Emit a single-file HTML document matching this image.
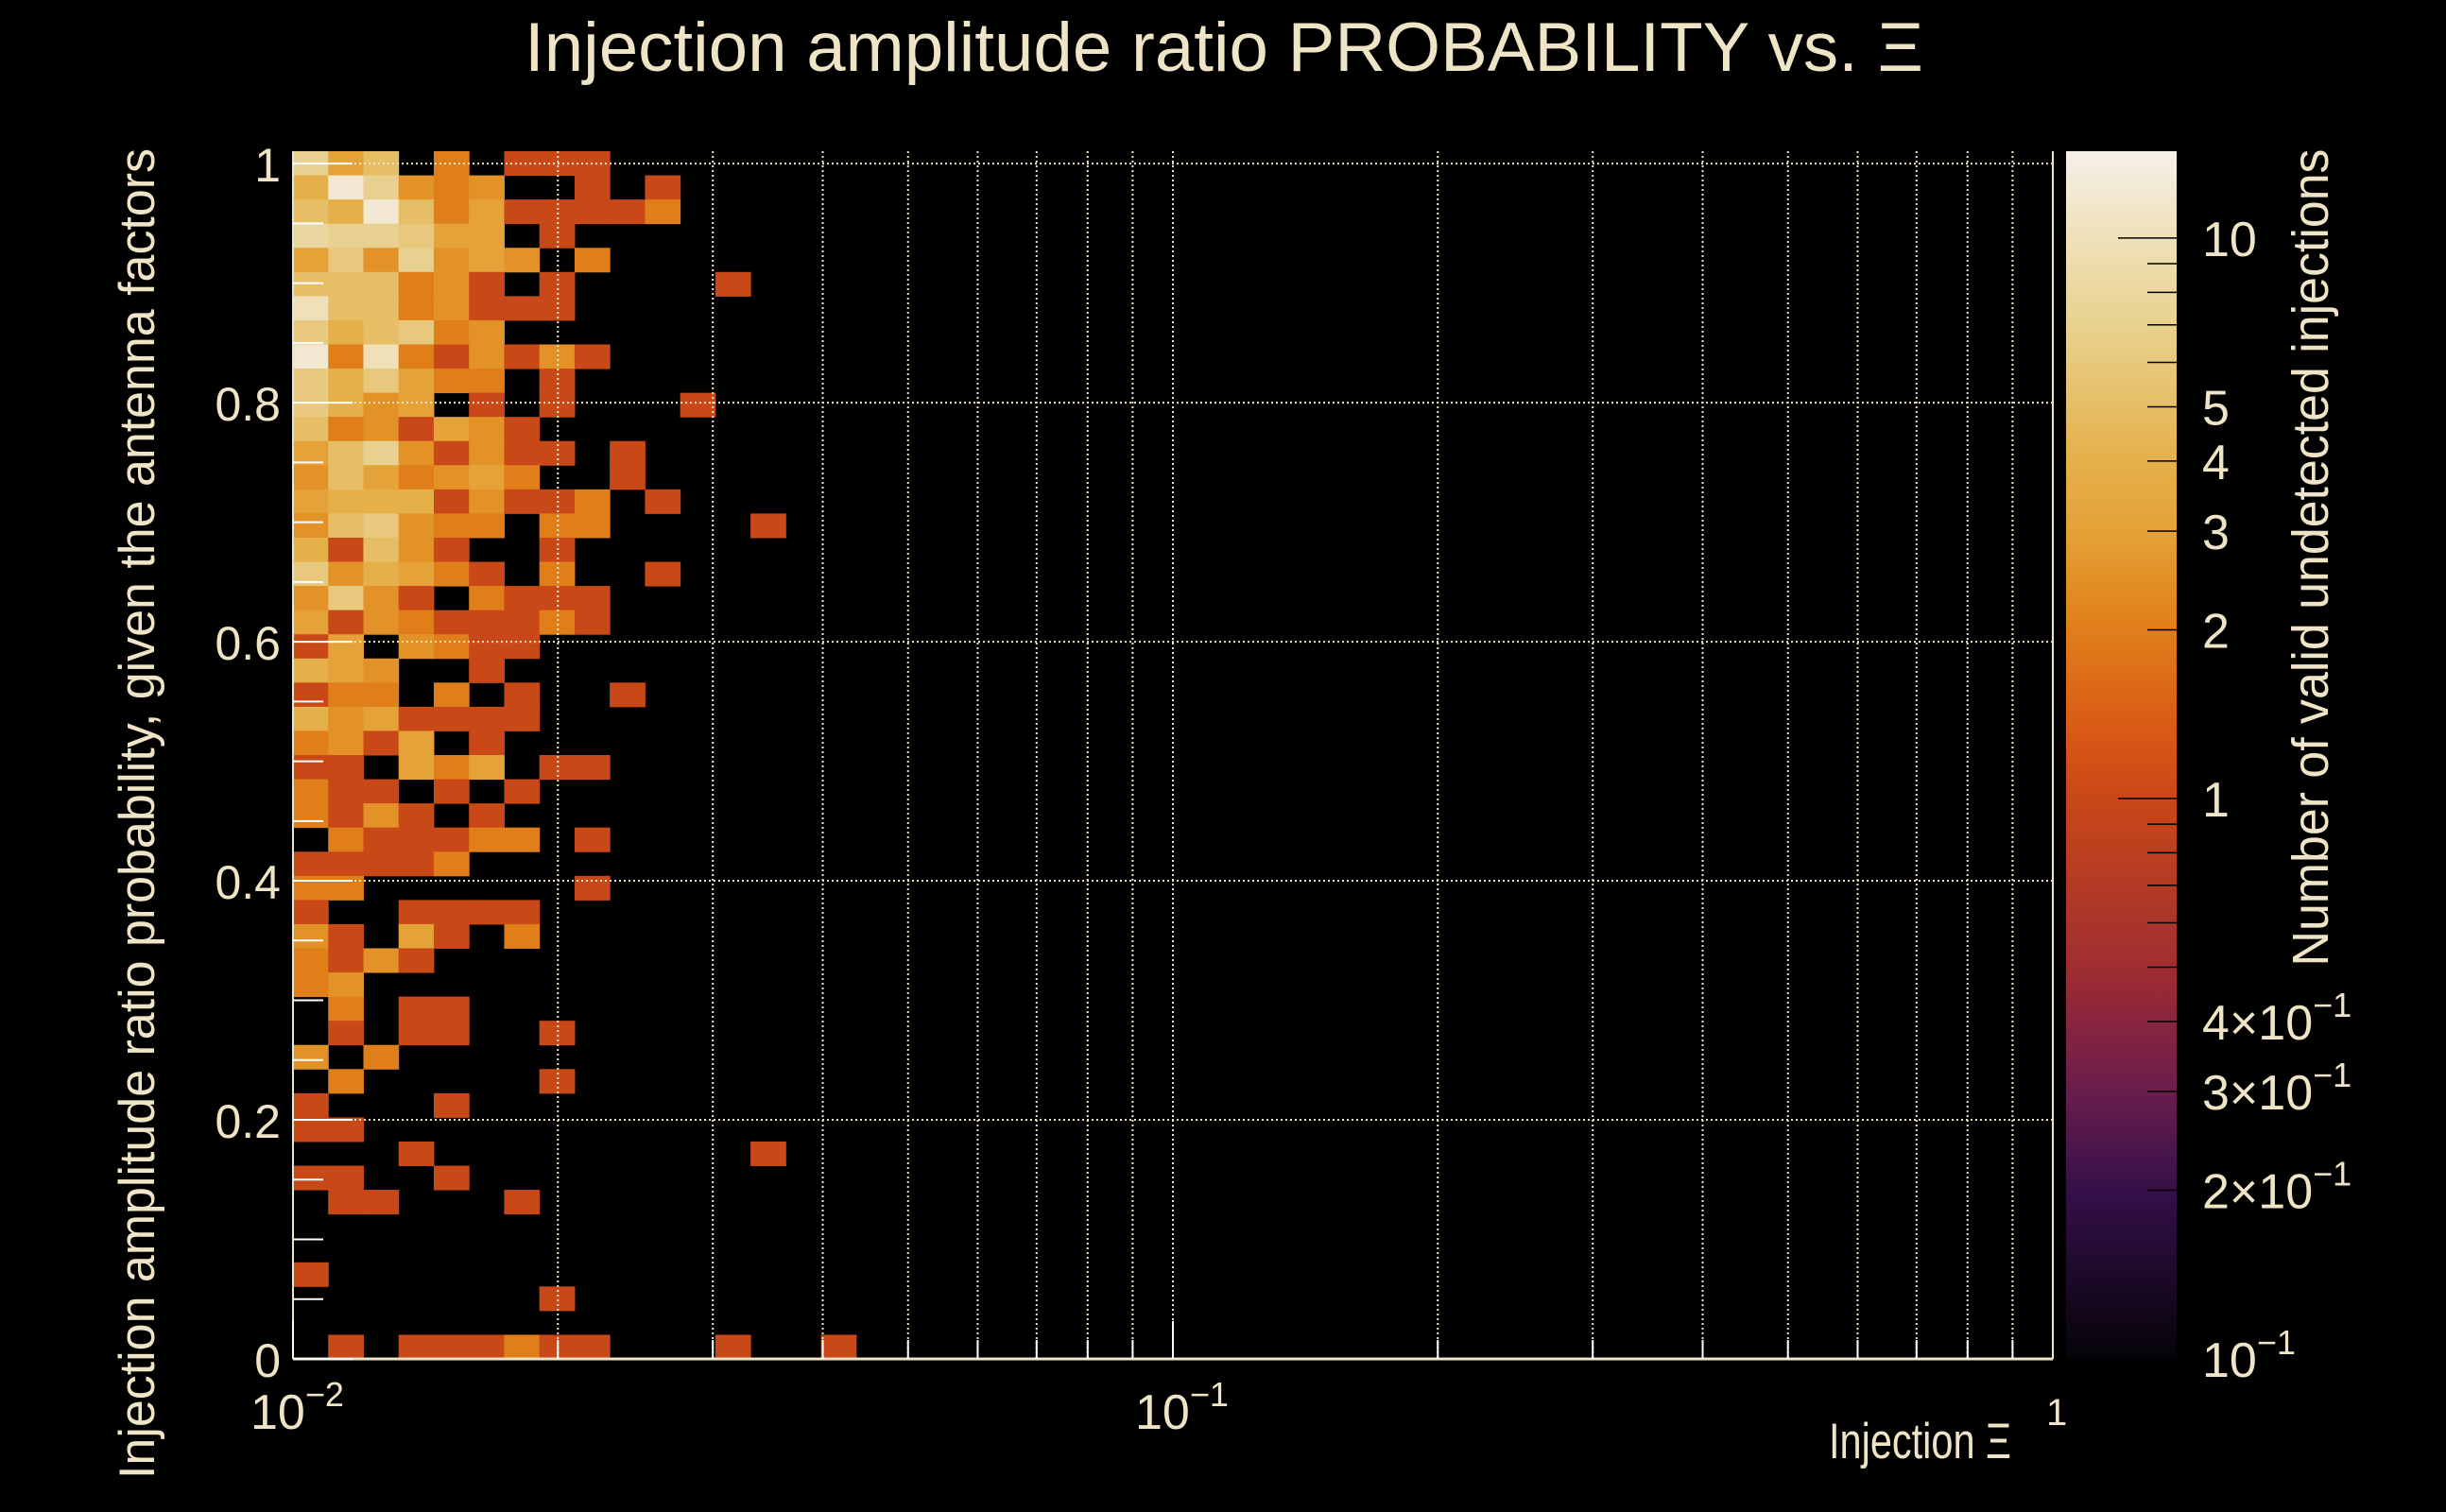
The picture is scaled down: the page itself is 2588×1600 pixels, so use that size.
<!DOCTYPE html>
<html><head><meta charset="utf-8"><style>
html,body{margin:0;padding:0;background:#000;}
svg{display:block;}
text{font-family:"Liberation Sans",sans-serif;fill:#efe4c6;}
</style></head><body>
<svg id="chart" width="2588" height="1600" viewBox="0 0 2588 1600" xmlns="http://www.w3.org/2000/svg">
<rect width="2588" height="1600" fill="#000"/>
<text x="555" y="75" font-size="73" textLength="1480" lengthAdjust="spacingAndGlyphs">Injection amplitude ratio PROBABILITY vs.  Ξ</text>
<g id="cells"></g>
<g id="grid"></g>
<g id="axes"></g>
<g id="cbar"></g>
<text transform="translate(163,861) rotate(-90)" text-anchor="middle" font-size="53" textLength="1408" lengthAdjust="spacingAndGlyphs">Injection amplitude ratio probability, given the antenna factors</text>
<text x="2128" y="1543" text-anchor="end" font-size="53" textLength="193" lengthAdjust="spacingAndGlyphs">Injection Ξ</text>
<text transform="translate(2463,590) rotate(-90)" text-anchor="middle" font-size="54" textLength="865" lengthAdjust="spacingAndGlyphs">Number of valid undetected injections</text>
</svg>
<script>
// histogram: 50 log-x bins (0.01..1) x 50 y bins (0..1.0104); rows listed top (y bin 49) to bottom (y bin 0)
const xBinCount = 50;
const yBinCount = 50;
const countsByRow = [
[7,3,5,0,2,0,1,1,1],
[4,12,7,2.5,2,2.5,0,0,1,0,1],
[5,4,12,5,2,3,1,1,1,1,2],
[8,7,7,6,3,3,0,1],
[3,6,2.5,7,2.5,3,2.5,0,2],
[5,5,5,2,2.5,1,0,1,0,0,0,0,1],
[10,5,5,2,2.5,1,1,1],
[6,4,5,6,2,2.5],
[12,2,10,2,1,2.5,1,2.5,1],
[6,4,6,3,2,2,0,1],
[6,4,2.5,3,0,1,0,1,0,0,0,1],
[5,2,2.5,1,3,2.5,1],
[3,5,7,2.5,1,2.5,1,1,0,1],
[2.5,5,3,2,2.5,3,2,0,0,1],
[3,4,4,4,1,2.5,1,1,2,0,1],
[2.5,5,6,2.5,2,2,0,2,2,0,0,0,0,1],
[4,1,5,2.5,1,0,0,1],
[6,2.5,4,3,2,1,0,2,0,0,1],
[2.5,6,2.5,1,0,2,1,1,1],
[3,1,2.5,2,1,1,1,2,1],
[1,3,0,2.5,2,1,1],
[4,3,2.5,0,0,1],
[1,2,2,0,2,0,1,0,0,1],
[4,2.5,3,1,1,1,1],
[2,2.5,1,3,0,1],
[1,1,0,3,2,3,0,1,1],
[2,1,1,0,1,0,1],
[2,1,2.5,1,0,1],
[0,2,1,1,1,2,2,0,1],
[1,1,1,1,2],
[2,2,0,0,0,0,0,0,1],
[1,0,0,1,1,1,1],
[2.5,1,0,3,1,0,2],
[2,1,2.5,1],
[2,2.5],
[0,2,0,1,1],
[0,1,0,1,1,0,0,1],
[2.5,0,2],
[0,2,0,0,0,0,0,1],
[1,0,0,0,1],
[1,1],
[0,0,0,1,0,0,0,0,0,0,0,0,0,1],
[1,1,0,0,1],
[0,1,1,0,0,0,1],
[],
[],
[1],
[0,0,0,0,0,0,0,1],
[],
[0,1,0,1,1,1,2,1,1,0,0,0,1,0,0,1]
];
const yTickValues = [0,0.2,0.4,0.6,0.8,1];
const yTickLabels = ["0","0.2","0.4","0.6","0.8","1"];
const colorTickValues = [10,5,4,3,2,1,0.4,0.3,0.2,0.1];
const colorTickMain = ["10","5","4","3","2","1","4×10","3×10","2×10","10"];
const colorTickExp = ["","","","","","","−1","−1","−1","−1"];

const NS = "http://www.w3.org/2000/svg";
const X0=310, X1=2172, Y0=1438, Y1=160, YMAX=1.0104;
const ZMIN=-1, ZMAX=1.155;
function xScale(v){ return X0 + (Math.log10(v)+2)/2*(X1-X0); }
function yScale(v){ return Y0 - v/YMAX*(Y0-Y1); }
function zScale(v){ return Y0 - (Math.log10(v)-ZMIN)/(ZMAX-ZMIN)*(Y0-Y1); }
const stops = [[-1,[5,3,8]],[-0.7,[53,16,74]],[-0.52,[106,30,76]],[-0.4,[136,36,62]],[-0.3,[160,46,48]],[0,[201,72,24]],[0.1,[216,85,21]],[0.301,[224,126,26]],[0.4,[227,146,40]],[0.477,[228,162,56]],[0.602,[229,176,74]],[0.699,[230,190,101]],[0.85,[232,210,145]],[1,[239,224,184]],[1.155,[245,240,232]]];
function colorFor(v){
  const t = Math.log10(v);
  if (t<=stops[0][0]) return "rgb("+stops[0][1].join(",")+")";
  for (let i=1;i<stops.length;i++){
    if (t<=stops[i][0]){
      const a=stops[i-1], b=stops[i], f=(t-a[0])/(b[0]-a[0]);
      return "rgb("+a[1].map((c,k)=>Math.round(c+(b[1][k]-c)*f)).join(",")+")";
    }
  }
  return "rgb("+stops[stops.length-1][1].join(",")+")";
}
function mk(tag, attrs, parent){
  const el=document.createElementNS(NS,tag);
  for (const k in attrs) el.setAttribute(k, attrs[k]);
  parent.appendChild(el);
  return el;
}
const cells=document.getElementById('cells');
countsByRow.forEach((row, r)=>{
  const yb = yBinCount-1-r;
  row.forEach((v,c)=>{
    if(!v) return;
    const xa = xScale(Math.pow(10,-2+2*c/xBinCount)), xb = xScale(Math.pow(10,-2+2*(c+1)/xBinCount));
    const ya = yScale(YMAX*(yb+1)/yBinCount), ybot = yScale(YMAX*yb/yBinCount);
    const el = mk('rect',{x:xa,y:ya,width:xb-xa+0.5,height:ybot-ya+0.5,fill:colorFor(v)},cells);
    
    
  });
});
const grid=document.getElementById('grid');
const gridCol="#efe4c6";
for (let e=-2;e<0;e++){
  for (let m=1;m<=9;m++){
    const v=m*Math.pow(10,e); if (v<=0.01) continue;
    const x=xScale(v);
    const l=mk('line',{x1:x,y1:Y1,x2:x,y2:Y0,stroke:gridCol,'stroke-width':2,'stroke-dasharray':'2,3'},grid);
    
    
  }
}
yTickValues.forEach(v=>{
  if (v===0) return;
  const y=yScale(v);
  const l=mk('line',{x1:X0,y1:y,x2:X1,y2:y,stroke:gridCol,'stroke-width':2,'stroke-dasharray':'2,3'},grid);
  
  
});
const axes=document.getElementById('axes');
mk('line',{x1:X0,y1:Y0,x2:X1,y2:Y0,stroke:gridCol,'stroke-width':3},axes);
mk('line',{x1:X0,y1:Y1,x2:X0,y2:Y0,stroke:gridCol,'stroke-width':2},axes);
mk('line',{x1:X1,y1:Y1,x2:X1,y2:Y0,stroke:gridCol,'stroke-width':2},axes);
for (let i=0;i<=20;i++){
  const v=i*0.05, y=yScale(v);
  const len = (i%4===0)?63:32;
  mk('line',{x1:X0,y1:y,x2:X0+len,y2:y,stroke:"#fff",'stroke-width':2},axes);
}
yTickValues.forEach((v,i)=>{
  const t=mk('text',{x:297,y:yScale(v)+19,'text-anchor':'end','font-size':50},axes);
  t.textContent=yTickLabels[i];
  
  
});
for (let e=-2;e<0;e++){
  for (let m=1;m<=9;m++){
    const x=xScale(m*Math.pow(10,e));
    mk('line',{x1:x,y1:Y0,x2:x,y2:Y0-(m===1?40:20),stroke:"#fff",'stroke-width':2},axes);
  }
}
[[-2,265],[-1,1201]].forEach(p=>{
  const t=mk('text',{x:p[1],y:1512,'font-size':52},axes);
  
  
  t.textContent="10";
  const s=mk('tspan',{dy:-24,'font-size':36},t); s.textContent=(p[0]===-2?"−2":"−1");
});
const one=mk('text',{x:2165,y:1508,'font-size':40},axes); one.textContent="1";



const cbar=document.getElementById('cbar');
const defs=mk('defs',{},cbar);
const grad=mk('linearGradient',{id:'cg',x1:0,y1:1,x2:0,y2:0},defs);
for (let i=0;i<=60;i++){
  const t=ZMIN+(ZMAX-ZMIN)*i/60;
  mk('stop',{offset:(i/60).toFixed(4),'stop-color':colorFor(Math.pow(10,t))},grad);
}
const CX0=2186, CX1=2303;
mk('rect',{x:CX0,y:Y1,width:CX1-CX0,height:Y0-Y1,fill:'url(#cg)'},cbar);
[0.2,0.3,0.4,0.5,0.6,0.7,0.8,0.9,1,2,3,4,5,6,7,8,9,10].forEach(v=>{
  const y=zScale(v); const major=(v===1||v===10);
  mk('line',{x1:CX1,y1:y,x2:CX1-(major?62:31),y2:y,stroke:'#000','stroke-width':1.5},cbar);
});
colorTickValues.forEach((v,i)=>{
  const t=mk('text',{x:2330,y:zScale(v)+19,'font-size':52},cbar);
  
  
  t.textContent=colorTickMain[i];
  if (colorTickExp[i]){ const s=mk('tspan',{dy:-24,'font-size':36},t); s.textContent=colorTickExp[i]; }
});
</script>
</body></html>
